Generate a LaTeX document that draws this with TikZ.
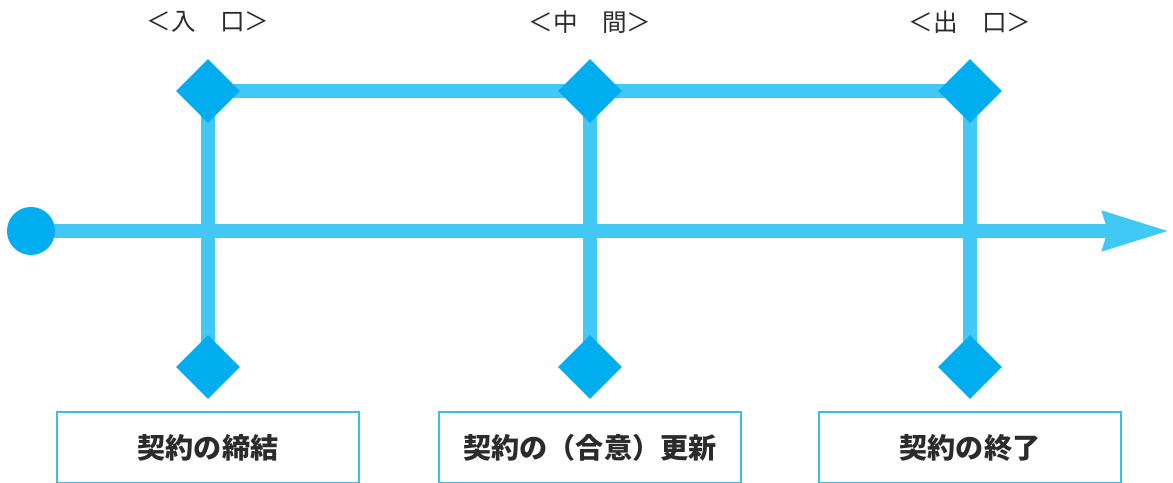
\documentclass[tikz,border=0pt]{standalone}
\usepackage{fontspec}
\setmainfont{Noto Sans CJK JP}
\usetikzlibrary{shapes.geometric}
\usetikzlibrary{arrows.meta}
\usetikzlibrary{backgrounds}
\usetikzlibrary{positioning}
\definecolor{barcyan}{HTML}{42C8F4}
\definecolor{gemcyan}{HTML}{00AEEF}
\definecolor{boxcyan}{HTML}{3CBDE9}
\definecolor{inkgray}{HTML}{2B2B2B}

\begin{document}
\begin{tikzpicture}
    [
    x=0.02cm, y=-0.02cm,
    bar/.style={draw=barcyan, line width=0.28cm},
    gem/.style={diamond, fill=gemcyan, inner sep=0pt, minimum size=1.28cm},
    stage/.style={text=inkgray, font=\fontsize{14pt}{16pt}\selectfont},
    event/.style={draw=boxcyan, line width=0.8pt, minimum width=6.04cm, minimum height=1.42cm,
      text=inkgray, font=\bfseries\fontsize{16pt}{18pt}\selectfont},
    ]
    \useasboundingbox (0,0) rectangle (1173,483);

    \node (start) at (31,231) [circle, fill=gemcyan, inner sep=0pt, minimum size=0.96cm] {};
    \coordinate (tip) at (1170,231);

    \node (in) at (208,91) [gem] {};
    \node (mid) at (590,91) [gem] {};
    \node (out) at (970,91) [gem] {};
    \node (inb) at (208,367) [gem] {};
    \node (midb) at (590,367) [gem] {};
    \node (outb) at (970,367) [gem] {};

    \node (lin) at (208,22) [stage] {＜入　口＞};
    \node (lmid) at (590,22) [stage] {＜中　間＞};
    \node (lout) at (970,22) [stage] {＜出　口＞};

    \node (e1) [event, below=0.24cm of inb] {契約の締結};
    \node (e2) [event, below=0.24cm of midb] {契約の（合意）更新};
    \node (e3) [event, below=0.24cm of outb] {契約の終了};

    \begin{pgfonlayer}{background}
    \draw [bar] (in.center) to (out.center);
    \draw [bar] (in.center) to (inb.center);
    \draw [bar] (mid.center) to (midb.center);
    \draw [bar] (out.center) to (outb.center);
    \draw [bar, -{Stealth[length=1.32cm, width=0.74cm, inset=0.08cm]}] (start.center) to (tip);
    \end{pgfonlayer}
  \end{tikzpicture}
\end{document}
